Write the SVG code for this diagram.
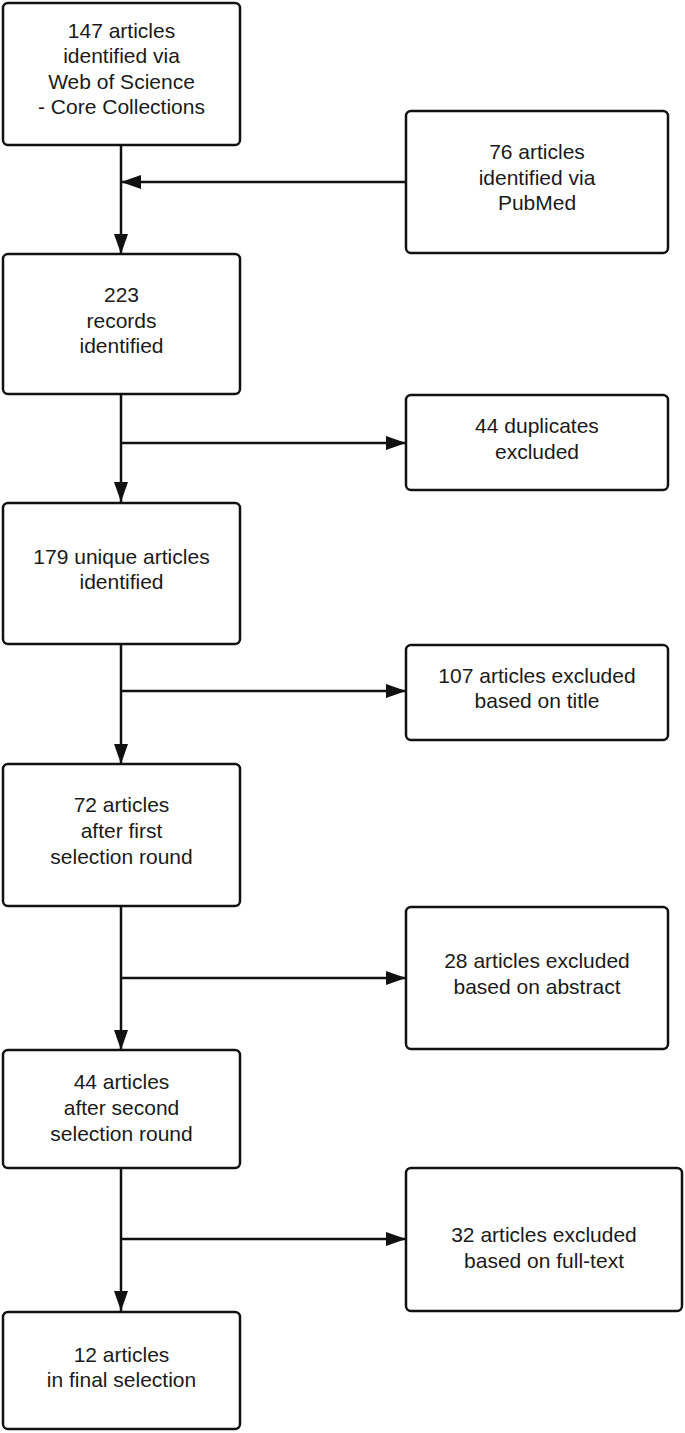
<svg xmlns="http://www.w3.org/2000/svg" width="685" height="1433" viewBox="0 0 685 1433">
<defs>
<style>
.box{fill:#fff;stroke:#111;stroke-width:2.5}
.t{font-family:"Liberation Sans",Arial,sans-serif;font-size:21px;fill:#1a1a1a;text-anchor:middle}
.c{fill:none;stroke:#111;stroke-width:2.5}
</style>
<marker id="ah" markerUnits="userSpaceOnUse" markerWidth="20" markerHeight="14" refX="20" refY="7" orient="auto" viewBox="0 0 20 14">
<path d="M0,0 L20,7 L0,14 z" fill="#111"/>
</marker>
</defs>
<rect width="685" height="1433" fill="#fff"/>
<g id="connectors">
<line class="c" x1="121" y1="145" x2="121" y2="254" marker-end="url(#ah)"/>
<line class="c" x1="406" y1="182" x2="121" y2="182" marker-end="url(#ah)"/>
<line class="c" x1="121" y1="394" x2="121" y2="502" marker-end="url(#ah)"/>
<line class="c" x1="121" y1="443" x2="406" y2="443" marker-end="url(#ah)"/>
<line class="c" x1="121" y1="644" x2="121" y2="764" marker-end="url(#ah)"/>
<line class="c" x1="121" y1="691" x2="406" y2="691" marker-end="url(#ah)"/>
<line class="c" x1="121" y1="906" x2="121" y2="1050" marker-end="url(#ah)"/>
<line class="c" x1="121" y1="978" x2="406" y2="978" marker-end="url(#ah)"/>
<line class="c" x1="121" y1="1168" x2="121" y2="1311" marker-end="url(#ah)"/>
<line class="c" x1="121" y1="1239" x2="406" y2="1239" marker-end="url(#ah)"/>
</g>
<g id="n1">
<rect class="box" x="3" y="3" width="237" height="142" rx="5"/>
<text class="t" x="121.5" y="38">147 articles</text>
<text class="t" x="121.5" y="63">identified via</text>
<text class="t" x="121.5" y="89">Web of Science</text>
<text class="t" x="121.5" y="114">- Core Collections</text>
</g>
<g id="n2">
<rect class="box" x="406" y="111" width="262" height="142" rx="5"/>
<text class="t" x="537" y="159">76 articles</text>
<text class="t" x="537" y="185">identified via</text>
<text class="t" x="537" y="210">PubMed</text>
</g>
<g id="n3">
<rect class="box" x="3" y="254" width="237" height="140" rx="5"/>
<text class="t" x="121.5" y="302">223</text>
<text class="t" x="121.5" y="328">records</text>
<text class="t" x="121.5" y="353">identified</text>
</g>
<g id="n4">
<rect class="box" x="406" y="395" width="262" height="95" rx="5"/>
<text class="t" x="537" y="433">44 duplicates</text>
<text class="t" x="537" y="459">excluded</text>
</g>
<g id="n5">
<rect class="box" x="3" y="503" width="237" height="141" rx="5"/>
<text class="t" x="121.5" y="564">179 unique articles</text>
<text class="t" x="121.5" y="589">identified</text>
</g>
<g id="n6">
<rect class="box" x="406" y="645" width="262" height="95" rx="5"/>
<text class="t" x="537" y="683">107 articles excluded</text>
<text class="t" x="537" y="708">based on title</text>
</g>
<g id="n7">
<rect class="box" x="3" y="764" width="237" height="142" rx="5"/>
<text class="t" x="121.5" y="812">72 articles</text>
<text class="t" x="121.5" y="838">after first</text>
<text class="t" x="121.5" y="864">selection round</text>
</g>
<g id="n8">
<rect class="box" x="406" y="907" width="262" height="142" rx="5"/>
<text class="t" x="537" y="968">28 articles excluded</text>
<text class="t" x="537" y="994">based on abstract</text>
</g>
<g id="n9">
<rect class="box" x="3" y="1050" width="237" height="118" rx="5"/>
<text class="t" x="121.5" y="1089">44 articles</text>
<text class="t" x="121.5" y="1115">after second</text>
<text class="t" x="121.5" y="1141">selection round</text>
</g>
<g id="n10">
<rect class="box" x="406" y="1168" width="276" height="143" rx="5"/>
<text class="t" x="544" y="1242">32 articles excluded</text>
<text class="t" x="544" y="1268">based on full-text</text>
</g>
<g id="n11">
<rect class="box" x="3" y="1312" width="237" height="117" rx="5"/>
<text class="t" x="121.5" y="1362">12 articles</text>
<text class="t" x="121.5" y="1387">in final selection</text>
</g>
</svg>
